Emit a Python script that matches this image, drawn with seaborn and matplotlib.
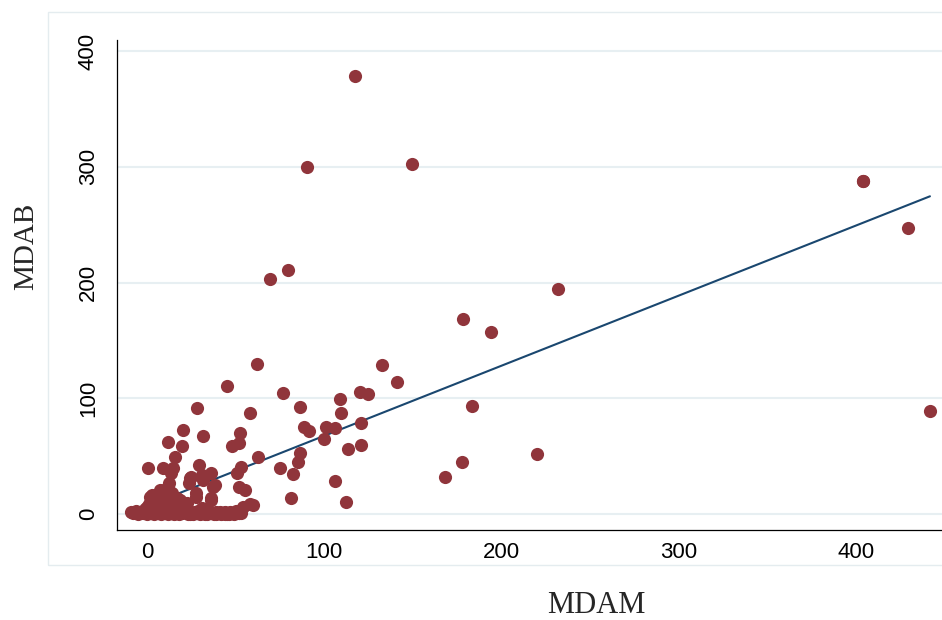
import numpy as np
import pandas as pd
import matplotlib

matplotlib.use('Agg')
import matplotlib.pyplot as plt
import seaborn as sns
from matplotlib.patches import Rectangle

##################### data
# points away from the origin cluster (404/288 looks like two overlapping obs)
mdam_far = [117.5, 149.6, 90.4, 404.0, 404.0, 429.0, 69.4, 79.7, 231.8, 178.1, 193.8,
            62.0, 132.5, 140.8, 76.5, 120.1, 124.8, 109.0, 58.3, 86.1, 109.6,
            120.5, 88.6, 91.4, 100.8, 106.0, 99.7, 52.6, 51.9, 113.2, 120.7,
            62.4, 86.1, 85.0, 75.0, 82.3, 53.0, 50.6, 51.9, 55.3, 106.0,
            81.2, 112.1, 58.1, 60.0, 51.9, 45.3, 28.0, 20.3, 31.6, 11.8,
            19.9, 47.8, 220.1, 177.8, 167.9, 183.5, 441.6]
mdab_far = [378.6, 302.5, 299.7, 288.1, 288.1, 247.4, 202.9, 210.9, 194.5, 168.3, 157.6,
            129.6, 129.0, 114.3, 104.5, 105.4, 103.7, 99.1, 87.0, 92.2, 87.6,
            78.9, 75.2, 71.7, 75.5, 74.1, 64.6, 69.7, 61.1, 56.4, 59.4,
            49.5, 52.5, 44.9, 39.8, 34.8, 40.4, 35.7, 23.1, 20.7, 28.8,
            13.8, 10.1, 8.6, 7.5, 1.1, 110.6, 91.4, 72.6, 67.7, 62.2,
            58.8, 58.8, 51.6, 44.7, 31.7, 93.6, 89.3]

# cluster near the origin
mdam_low = [15.6, 0.6, 9.0, 14.7, 29.3, 25.0, 36.3, 31.6, 38.2, 27.8,
            36.3, 11.8, 8.1, 1.5, 20.3, 23.7, 37.4, 13.5, 11.1, 13.9,
            7.3, 2.7, 15.8, 22.4, 6.4, 54.0, 27.5, 36.1, 30.9, 24.3,
            4.0, 9.5, 12.5, 17.0, 5.5, 10.5, 18.5, 3.0]
mdab_low = [49.5, 39.5, 39.5, 39.5, 42.4, 32.2, 35.2, 29.4, 25.1, 15.0,
            13.6, 23.6, 19.3, 15.0, 7.8, 26.5, 23.6, 35.2, 22.2, 17.9,
            20.7, 16.4, 10.6, 9.2, 9.2, 6.3, 17.9, 12.1, 33.7, 30.8,
            11.0, 13.0, 27.0, 13.5, 6.5, 8.0, 12.0, 8.5]

# the band of points sitting on zero
mdam_zero = [-9, -8, -6, -5, -3, -2, -1, 0, 0, 1, 1, 2, 3, 3, 4, 5, 5, 6, 7, 8,
             9, 10, 11, 12, 13, 14, 15, 17, 18, 20, 21, 23, 25, 26, 28, 30, 32,
             34, 36, 38, 40, 42, 44, 46, 48, 52,
             16, 19, 22, 24, 27, 29, 31, 33, 35, 37, 39, 41, 43, 45, 47, 49,
             50, 53, 19, 24, 29, 34, 44, 39, 31]
mdab_zero = [2, 1, 3, 0, 2, 1, 4, 0, 6, 2, 9, 1, 3, 7, 0, 2, 5, 1, 4, 0,
             2, 1, 6, 0, 3, 1, 0, 2, 0, 1, 3, 0, 2, 0, 1, 0, 2,
             0, 1, 0, 1, 0, 2, 0, 1, 1,
             3, 1, 4, 0, 2, 3, 1, 0, 3, 1, 0, 2, 1, 0, 2, 0,
             3, 1, 4, 2, 1, 3, 0, 2, 5]

df = pd.DataFrame({'MDAM': mdam_far + mdam_low + mdam_zero,
                   'MDAB': mdab_far + mdab_low + mdab_zero})

ticks = [0, 100, 200, 300, 400]

sns.set_style("white")
plt.rcParams['font.family'] = ['Liberation Sans', 'DejaVu Sans']

fig = plt.figure(figsize=[9.42, 6.2], dpi=100)
ax = fig.add_axes([117 / 942, 90 / 620, 825 / 942, 490 / 620])

# scatter + linear fit line (Stata-like twoway scatter / lfit)
sns.regplot(data=df, x='MDAM', y='MDAB', ci=None, ax=ax,
            scatter_kws=dict(s=90, color='#90353b', alpha=1, linewidths=0, zorder=3),
            line_kws=dict(color='#1a476f', lw=1.5, zorder=2))

ax.set_xlim(-16.9, 448.4)
ax.set_ylim(-13.8, 409.7)
ax.set_xticks(ticks)
ax.set_yticks(ticks)

for s in ['top', 'right']:
    ax.spines[s].set_visible(False)
for s in ['left', 'bottom']:
    ax.spines[s].set_color('black')
    ax.spines[s].set_linewidth(0.9)

ax.tick_params(axis='both', direction='out', length=6, width=0.9, colors='black', labelsize=16)
ax.tick_params(axis='x', pad=3)
ax.tick_params(axis='y', pad=7, labelrotation=90)
for lab in ax.get_yticklabels():
    lab.set_va('center')

ax.set_axisbelow(True)
ax.yaxis.grid(True, color='#e7eff2', lw=1.5)
ax.xaxis.grid(False)

ax.set_xlabel('MDAM', fontsize=22, family=['Liberation Serif'])
ax.xaxis.set_label_coords(479 / 825, -83 / 490)
ax.xaxis.label.set_va('baseline')
ax.set_ylabel('MDAB', fontsize=21, family=['Liberation Serif'])
ax.yaxis.set_label_coords(-84 / 825, 283.5 / 490)
ax.yaxis.label.set_va('baseline')

# faint outer frame of the graph region
fig.patches.append(Rectangle((48 / 942, 1 - 565 / 620), 1.0, 553 / 620, transform=fig.transFigure,
                             fill=False, edgecolor='#e4ecef', lw=1.0))

fig.savefig('out.png', dpi=100)
